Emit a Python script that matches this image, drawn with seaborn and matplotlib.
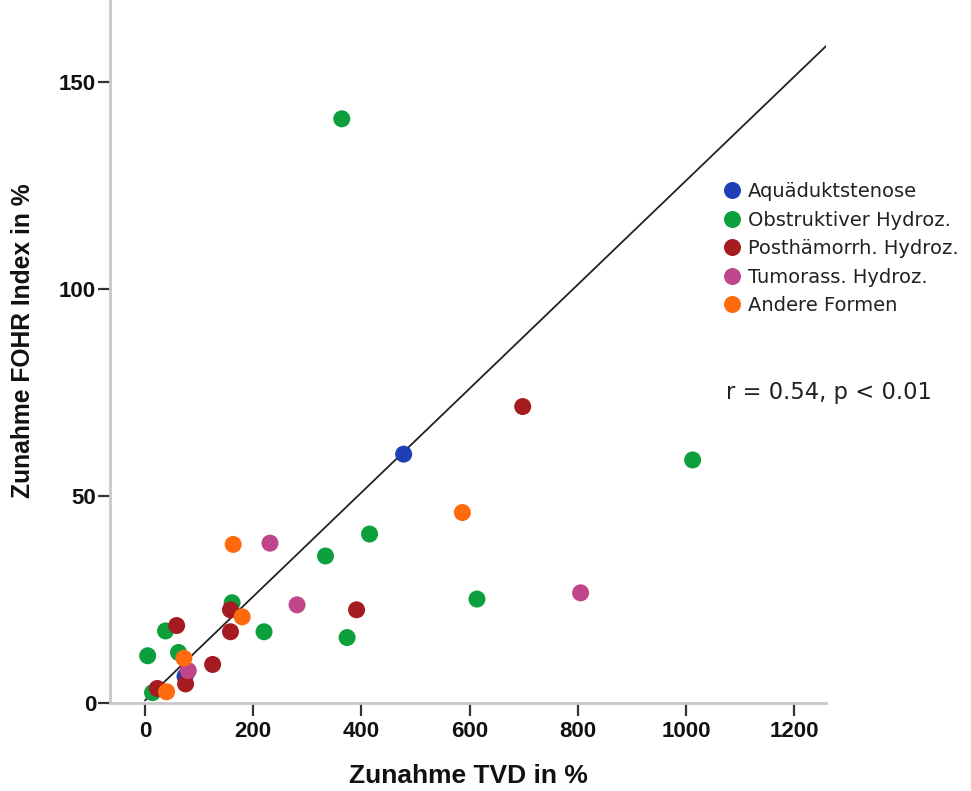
import matplotlib
matplotlib.use("Agg")
import matplotlib.pyplot as plt
import seaborn as sns
import pandas as pd
import numpy as np

# ---- data ----
groups = ["Aquäduktstenose", "Obstruktiver Hydroz.", "Posthämorrh. Hydroz.",
          "Tumorass. Hydroz.", "Andere Formen"]
colors = ["#1f3fb4", "#0e9f3d", "#a51b1f", "#c0468b", "#ff6a0c"]

aqu_x = [478, 74]
aqu_y = [60.1, 6.4]
obs_x = [363.7, 1012, 415, 333.6, 613.5, 161, 220, 373.5, 38, 5, 62, 14]
obs_y = [141.1, 58.7, 40.8, 35.5, 25.1, 24.2, 17.2, 15.8, 17.4, 11.4, 12.2, 2.5]
pos_x = [698, 158, 391, 158, 58.5, 125, 75, 22.8]
pos_y = [71.6, 22.5, 22.5, 17.2, 18.7, 9.3, 4.6, 3.5]
tum_x = [231, 281, 805, 80]
tum_y = [38.6, 23.7, 26.6, 7.8]
and_x = [163, 586.5, 179.6, 72, 40]
and_y = [38.3, 46.0, 20.8, 10.8, 2.7]

line_intercept = 0.6
line_slope = 0.1256

x_ticks = [0, 200, 400, 600, 800, 1000, 1200]
y_ticks = [0, 50, 100, 150]

rows = []
for g, xs, ys in zip(groups, [aqu_x, obs_x, pos_x, tum_x, and_x],
                     [aqu_y, obs_y, pos_y, tum_y, and_y]):
    for a, b in zip(xs, ys):
        rows.append({"TVD": a, "FOHR": b, "Gruppe": g})
df = pd.DataFrame(rows)

sns.set_style("ticks")
plt.rcParams["font.family"] = ["Liberation Sans", "DejaVu Sans"]

fig = plt.figure(figsize=(9.71, 7.91), dpi=100)
ax = fig.add_axes([0.1133, 0.1113, 0.8507 - 0.1133, 0.8887])

xmin, xmax = -64.6, 1258.5
ax.set_xlim(xmin, xmax)
ax.set_ylim(0, 169.8)

lx = np.array([0, xmax])
ax.plot(lx, line_intercept + line_slope * lx, color="#222222", lw=1.3, zorder=2)

sns.scatterplot(data=df, x="TVD", y="FOHR", hue="Gruppe", hue_order=groups,
                palette=colors, s=150, linewidth=0, edgecolor="none",
                ax=ax, zorder=3, legend=True)

sns.despine(ax=ax)
for sp in ["left", "bottom"]:
    ax.spines[sp].set_color("#c8c8c8")
    ax.spines[sp].set_linewidth(2)

ax.set_xticks(x_ticks)
ax.set_yticks(y_ticks)
ax.tick_params(axis="both", direction="out", length=9, width=1.6, color="#333333",
               labelsize=16, labelcolor="#111111")
ax.tick_params(axis="y", pad=1)
ax.tick_params(axis="x", pad=4)
for lab in ax.get_xticklabels() + ax.get_yticklabels():
    lab.set_fontweight("bold")

ax.set_xlabel("Zunahme TVD in %", fontsize=19, fontweight="bold", labelpad=16,
              color="#111111")
ax.set_ylabel("Zunahme FOHR Index in %", fontsize=17.7, fontweight="bold",
              color="#111111")
ax.yaxis.set_label_coords(-0.1047, 0.516)

leg = ax.legend(loc="upper left", bbox_to_anchor=(0.8517, 0.741), frameon=False,
                prop={"family": "DejaVu Sans", "size": 14}, handletextpad=0.25,
                labelspacing=0.49, borderaxespad=0, handlelength=1.2,
                borderpad=0)
for t in leg.get_texts():
    t.set_color("#222222")

ax.text(0.860, 0.441, "r = 0.54, p < 0.01", transform=ax.transAxes, fontsize=16.3,
        family="DejaVu Sans", color="#222222", ha="left", va="center")

fig.savefig("out.png", dpi=100, facecolor="white")
